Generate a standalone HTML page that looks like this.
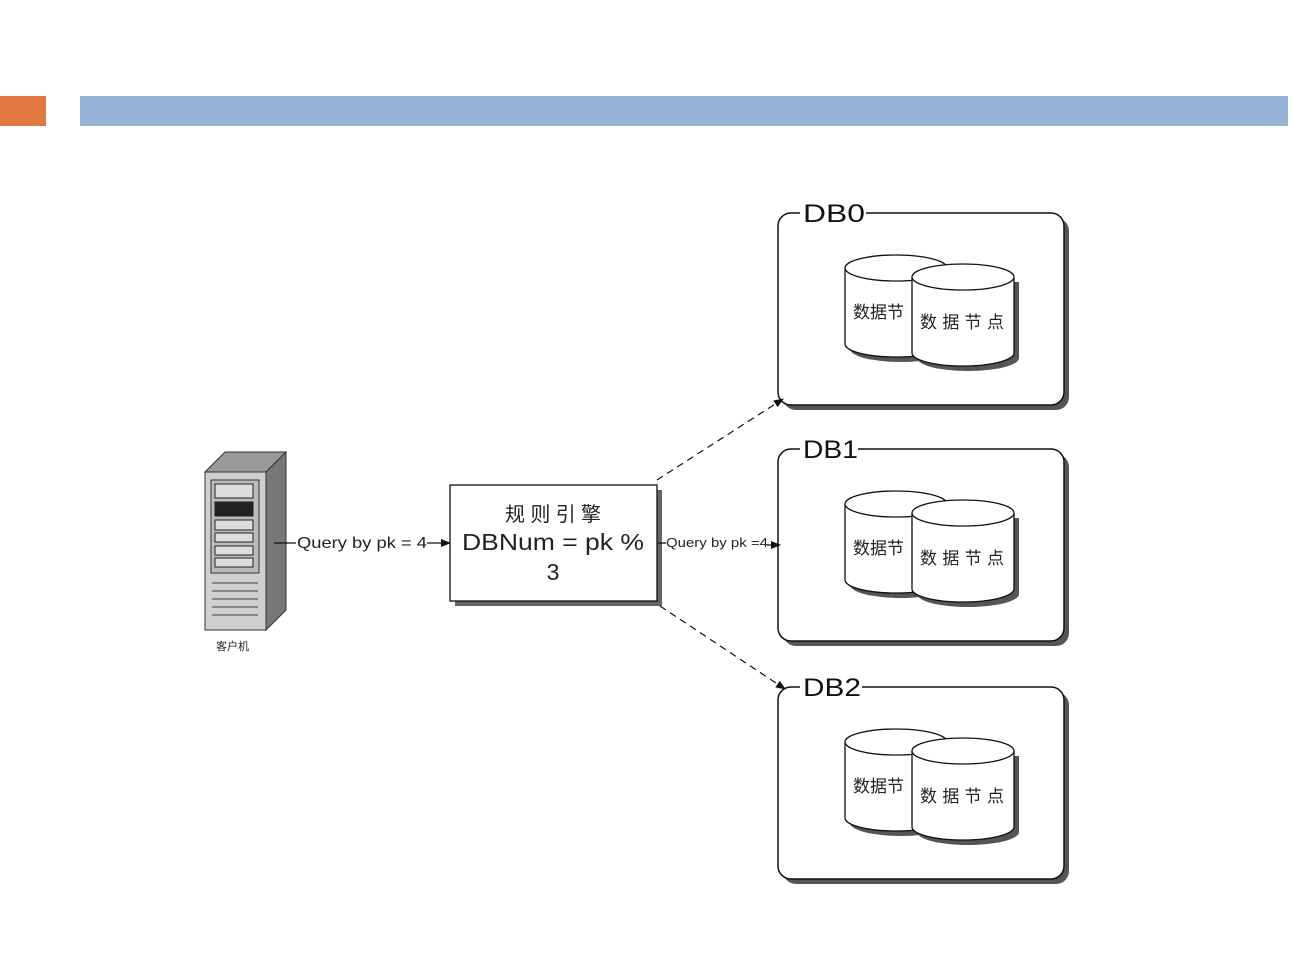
<!DOCTYPE html>
<html><head><meta charset="utf-8"><style>
html,body{margin:0;padding:0;background:#fff;}
svg{display:block;font-family:"Liberation Sans","Noto Sans CJK SC",sans-serif;}
</style></head><body>
<svg width="1292" height="966" viewBox="0 0 1292 966" xmlns="http://www.w3.org/2000/svg">
<defs>
<marker id="ah" markerWidth="10" markerHeight="8" refX="9" refY="4" orient="auto" markerUnits="userSpaceOnUse"><path d="M0,0 L10,4 L0,8 Z" fill="#111"/></marker>
<g id="db">
  <rect x="783" y="218" width="286" height="192" rx="13" fill="#555"/>
  <rect x="778" y="213" width="286" height="192" rx="13" fill="#fff" stroke="#111" stroke-width="1.5"/>
  <path d="M850,273 v76 a51,13 0 0 0 102,0 v-76" fill="#555"/>
  <path d="M845,268 v76 a51,13 0 0 0 102,0 v-76" fill="#fff" stroke="#111" stroke-width="1.3"/>
  <ellipse cx="896" cy="268" rx="51" ry="13" fill="#fff" stroke="#111" stroke-width="1.3"/>
  <text x="853" y="318" font-size="17" fill="#222">数据节</text>
  <path d="M917,282 v76 a51,13 0 0 0 102,0 v-76" fill="#555"/>
  <path d="M912,277 v76 a51,13 0 0 0 102,0 v-76" fill="#fff" stroke="#111" stroke-width="1.3"/>
  <ellipse cx="963" cy="277" rx="51" ry="13" fill="#fff" stroke="#111" stroke-width="1.3"/>
  <text x="920" y="328" font-size="17" fill="#222" textLength="84" lengthAdjust="spacing">数据节点</text>
</g>
</defs>
<rect x="0" y="96" width="46" height="30" fill="#e0783f"/>
<rect x="80" y="96" width="1208" height="30" fill="#95b3d7"/>

<use href="#db"/>
<g transform="translate(0,236)"><use href="#db"/></g>
<g transform="translate(0,474)"><use href="#db"/></g>
<rect x="800" y="200" width="66" height="25" fill="#fff"/>
<text x="803" y="222" font-size="25" fill="#111" textLength="62" lengthAdjust="spacingAndGlyphs">DB0</text>
<rect x="800" y="436" width="58" height="26" fill="#fff"/>
<text x="803" y="458" font-size="25" fill="#111" textLength="55" lengthAdjust="spacingAndGlyphs">DB1</text>
<rect x="800" y="674" width="62" height="26" fill="#fff"/>
<text x="803" y="696" font-size="25" fill="#111" textLength="58" lengthAdjust="spacingAndGlyphs">DB2</text>

<!-- server -->
<polygon points="205,472 225,452 286,452 266,472" fill="#9a9a9a" stroke="#333"/>
<polygon points="266,472 286,452 286,610 266,630" fill="#777" stroke="#333"/>
<rect x="205" y="472" width="61" height="158" fill="#cfcfcf" stroke="#333"/>
<rect x="211" y="480" width="48" height="93" fill="#bbb" stroke="#333"/>
<rect x="215" y="484" width="38" height="14" fill="#ddd" stroke="#222"/>
<rect x="215" y="502" width="38" height="14" fill="#222" stroke="#222"/>
<rect x="215" y="520" width="38" height="10" fill="#ddd" stroke="#222"/>
<rect x="215" y="533" width="38" height="9" fill="#ddd" stroke="#222"/>
<rect x="215" y="546" width="38" height="9" fill="#ddd" stroke="#222"/>
<rect x="215" y="558" width="38" height="9" fill="#ddd" stroke="#222"/>
<g stroke="#888" stroke-width="2"><line x1="212" y1="583" x2="258" y2="583"/><line x1="212" y1="591" x2="258" y2="591"/><line x1="212" y1="599" x2="258" y2="599"/><line x1="212" y1="607" x2="258" y2="607"/><line x1="212" y1="615" x2="258" y2="615"/></g>
<text x="216" y="650" font-size="11" fill="#222">客户机</text>

<!-- rule box -->
<rect x="455" y="490" width="207" height="116" fill="#666"/>
<rect x="450" y="485" width="207" height="116" fill="#fff" stroke="#111" stroke-width="1.3"/>
<text x="553" y="521" font-size="20" text-anchor="middle" fill="#222" textLength="96" lengthAdjust="spacing">规则引擎</text>
<text x="553" y="550" font-size="23" text-anchor="middle" fill="#222" textLength="182" lengthAdjust="spacingAndGlyphs">DBNum = pk %</text>
<text x="553" y="580" font-size="23" text-anchor="middle" fill="#222">3</text>

<!-- connectors -->
<line x1="274" y1="543" x2="296" y2="543" stroke="#111" stroke-width="1.3"/>
<text x="297" y="548" font-size="16" fill="#222" textLength="130" lengthAdjust="spacingAndGlyphs">Query by pk = 4</text>
<line x1="427" y1="543" x2="450" y2="543" stroke="#111" stroke-width="1.3" marker-end="url(#ah)"/>
<line x1="658" y1="543" x2="666" y2="543" stroke="#111" stroke-width="1.3"/>
<text x="666" y="547" font-size="12.5" fill="#222" textLength="102" lengthAdjust="spacingAndGlyphs">Query by pk =4</text>
<line x1="767" y1="545" x2="780" y2="545" stroke="#111" stroke-width="1.3" marker-end="url(#ah)"/>
<line x1="657" y1="480" x2="783" y2="399" stroke="#111" stroke-width="1.2" stroke-dasharray="7,5" marker-end="url(#ah)"/>
<line x1="660" y1="606" x2="785" y2="689" stroke="#111" stroke-width="1.2" stroke-dasharray="7,5" marker-end="url(#ah)"/>
</svg>
</body></html>
